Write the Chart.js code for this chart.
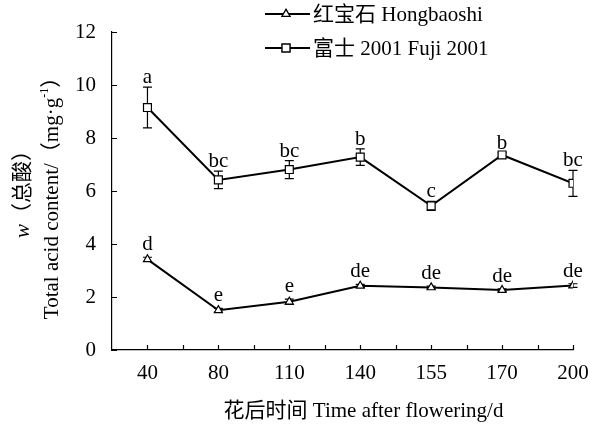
<!DOCTYPE html>
<html>
<head>
<meta charset="utf-8">
<script src="https://cdn.jsdelivr.net/npm/chart.js@4/dist/chart.umd.min.js"></script>
<style>
  html, body { margin: 0; padding: 0; background: #fff; }
  #wrap { width: 603px; height: 427px; position: relative; }
</style>
</head>
<body>
<div id="wrap"><canvas id="c"></canvas></div>
<script>
// Days after flowering (category labels on the x axis)
const categories = ['40', '80', '110', '140', '155', '170', '200'];

// Fuji 2001 total acid content (mg/g), standard error and significance letters
const fujiValues = [9.15, 6.42, 6.81, 7.28, 5.44, 7.36, 6.29];
const fujiErrors = [0.77, 0.33, 0.34, 0.31, 0.17, 0.08, 0.49];
const fujiLetters = ['a', 'bc', 'bc', 'b', 'c', 'b', 'bc'];

// Hongbaoshi total acid content (mg/g), standard error and significance letters
const hongValues = [3.42, 1.50, 1.82, 2.42, 2.36, 2.26, 2.43];
const hongErrors = [0.08, 0.07, 0.10, 0.06, 0.05, 0.05, 0.07];
const hongLetters = ['d', 'e', 'e', 'de', 'de', 'de', 'de'];

// Y axis tick values
const yTicks = [0, 2, 4, 6, 8, 10, 12];

const SERIF = '"Liberation Serif", "Times New Roman", "Noto Sans CJK SC", serif';
const FONT_PX = 21;

function toPoints(vals) { return vals.map((v, i) => ({ x: i, y: v })); }

const datasets = [
  {
    label: '红宝石 Hongbaoshi',
    data: toPoints(hongValues),
    errors: hongErrors,
    letters: hongLetters,
    letterGap: 7,
    pointStyle: 'triangle',
    pointRadius: 4.6,
  },
  {
    label: '富士 2001 Fuji 2001',
    data: toPoints(fujiValues),
    errors: fujiErrors,
    letters: fujiLetters,
    letterGap: 4,
    pointStyle: 'rect',
    pointRadius: 5.6,
  }
].map(d => Object.assign({
  borderColor: '#000',
  borderWidth: 2,
  backgroundColor: '#fff',
  pointBackgroundColor: '#fff',
  pointBorderColor: '#000',
  pointBorderWidth: 1.2,
  pointHoverRadius: d.pointRadius,
  tension: 0,
  fill: false,
}, d));

// Error bars drawn under the markers
const errorBars = {
  id: 'errorBars',
  beforeDatasetsDraw(chart) {
    const { ctx } = chart;
    const xs = chart.scales.x, ys = chart.scales.y;
    ctx.save();
    ctx.strokeStyle = '#000';
    ctx.lineWidth = 1.2;
    chart.data.datasets.forEach(ds => {
      ds.data.forEach((p, i) => {
        const e = ds.errors[i];
        const x = xs.getPixelForValue(p.x);
        const yTop = ys.getPixelForValue(p.y + e);
        const yBot = ys.getPixelForValue(p.y - e);
        const cap = 4.5;
        ctx.beginPath();
        ctx.moveTo(x, yTop); ctx.lineTo(x, yBot);
        ctx.moveTo(x - cap, yTop); ctx.lineTo(x + cap, yTop);
        ctx.moveTo(x - cap, yBot); ctx.lineTo(x + cap, yBot);
        ctx.stroke();
      });
    });
    ctx.restore();
  }
};

// Inward tick marks, significance letters, legend and axis titles
const decorations = {
  id: 'decorations',
  afterDraw(chart) {
    const { ctx, chartArea } = chart;
    const xs = chart.scales.x, ys = chart.scales.y;
    ctx.save();
    ctx.strokeStyle = '#000';
    ctx.lineWidth = 1.2;

    // x axis tick marks every half category, pointing up
    ctx.beginPath();
    for (let k = 0; k <= (categories.length - 1) * 2; k++) {
      const x = Math.round(xs.getPixelForValue(k / 2)) + 0.5;
      ctx.moveTo(x, chartArea.bottom);
      ctx.lineTo(x, chartArea.bottom - 5);
    }
    // y axis tick marks pointing right
    yTicks.forEach(v => {
      const y = Math.round(ys.getPixelForValue(v)) + 0.5;
      ctx.moveTo(chartArea.left, y);
      ctx.lineTo(chartArea.left + 5, y);
    });
    ctx.stroke();

    // significance letters
    ctx.fillStyle = '#000';
    ctx.font = FONT_PX + 'px ' + SERIF;
    ctx.textAlign = 'center';
    ctx.textBaseline = 'alphabetic';
    chart.data.datasets.forEach(ds => {
      ds.data.forEach((p, i) => {
        const x = xs.getPixelForValue(p.x);
        const y = ys.getPixelForValue(p.y + ds.errors[i]) - ds.letterGap;
        ctx.fillText(ds.letters[i], x, y);
      });
    });

    // legend
    const lgX0 = 265, lgX1 = 310, lgMark = 286, lgText = 313;
    const rows = [14, 48];
    chart.data.datasets.forEach((ds, i) => {
      const y = rows[i];
      ctx.strokeStyle = '#000';
      ctx.lineWidth = 2;
      ctx.beginPath();
      ctx.moveTo(lgX0, y); ctx.lineTo(lgX1, y);
      ctx.stroke();
      ctx.fillStyle = '#fff';
      ctx.lineWidth = 1.2;
      Chart.helpers.drawPoint(ctx, {
        pointStyle: ds.pointStyle, radius: ds.pointRadius,
        borderWidth: 1.2, rotation: 0
      }, lgMark, y);
      ctx.fill();
      ctx.stroke();
      ctx.fillStyle = '#000';
      ctx.textAlign = 'left';
      ctx.textBaseline = 'middle';
      ctx.font = FONT_PX + 'px ' + SERIF;
      ctx.fillText(ds.label, lgText, y + 1);
    });

    // x axis title
    ctx.textAlign = 'center';
    ctx.textBaseline = 'middle';
    ctx.font = FONT_PX + 'px ' + SERIF;
    ctx.fillText('花后时间 Time after flowering/d', (chartArea.left + chartArea.right) / 2 + 21, 411);

    // y axis title, two rotated lines
    const midY = (chartArea.top + chartArea.bottom) / 2;
    ctx.save();
    ctx.translate(23, midY - 2);
    ctx.rotate(-Math.PI / 2);
    ctx.textAlign = 'left';
    const italic = 'italic ' + FONT_PX + 'px ' + SERIF;
    const normal = FONT_PX + 'px ' + SERIF;
    ctx.font = italic;
    const wW = ctx.measureText('w').width;
    ctx.font = normal;
    const restW = ctx.measureText('（总酸）').width;
    let sx = -(wW + restW) / 2;
    ctx.font = italic; ctx.fillText('w', sx, 0);
    ctx.font = normal; ctx.fillText('（总酸）', sx + wW, 0);
    ctx.restore();

    ctx.save();
    ctx.translate(52, midY + 2);
    ctx.rotate(-Math.PI / 2);
    ctx.textAlign = 'left';
    const small = '12px ' + SERIF;
    const partA = 'Total acid content/（mg·g';
    const partSup = '-1';
    const partB = '）';
    ctx.font = normal;
    const aW = ctx.measureText(partA).width;
    const bW = ctx.measureText(partB).width;
    ctx.font = small;
    const supW = ctx.measureText(partSup).width;
    sx = -(aW + supW + bW) / 2;
    ctx.font = normal; ctx.fillText(partA, sx, 0);
    ctx.font = small; ctx.fillText(partSup, sx + aW, -7);
    ctx.font = normal; ctx.fillText(partB, sx + aW + supW, 0);
    ctx.restore();

    ctx.restore();
  }
};

new Chart(document.getElementById('c'), {
  type: 'line',
  data: { datasets },
  options: {
    responsive: true,
    maintainAspectRatio: false,
    animation: false,
    events: [],
    layout: { padding: { top: 32, right: 30, left: 0, bottom: 0 } },
    plugins: { legend: { display: false }, tooltip: { enabled: false } },
    scales: {
      x: {
        type: 'linear',
        min: -0.5,
        max: categories.length - 1,
        afterBuildTicks(scale) {
          scale.ticks = categories.map((c, i) => ({ value: i }));
        },
        afterFit(scale) { scale.height = 77; },
        grid: { display: false, drawTicks: false },
        border: { display: true, color: '#000', width: 1.2 },
        ticks: {
          autoSkip: false,
          maxRotation: 0,
          padding: 11,
          color: '#000',
          font: { family: SERIF, size: FONT_PX },
          callback: (v) => categories[v] ?? ''
        }
      },
      y: {
        min: 0,
        max: 12,
        afterBuildTicks(scale) {
          scale.ticks = yTicks.map(v => ({ value: v }));
        },
        afterFit(scale) { scale.width = 112; },
        grid: { display: false, drawTicks: false },
        border: { display: true, color: '#000', width: 1.2 },
        ticks: {
          padding: 16,
          color: '#000',
          font: { family: SERIF, size: FONT_PX }
        }
      }
    }
  },
  plugins: [errorBars, decorations]
});
</script>
</body>
</html>
